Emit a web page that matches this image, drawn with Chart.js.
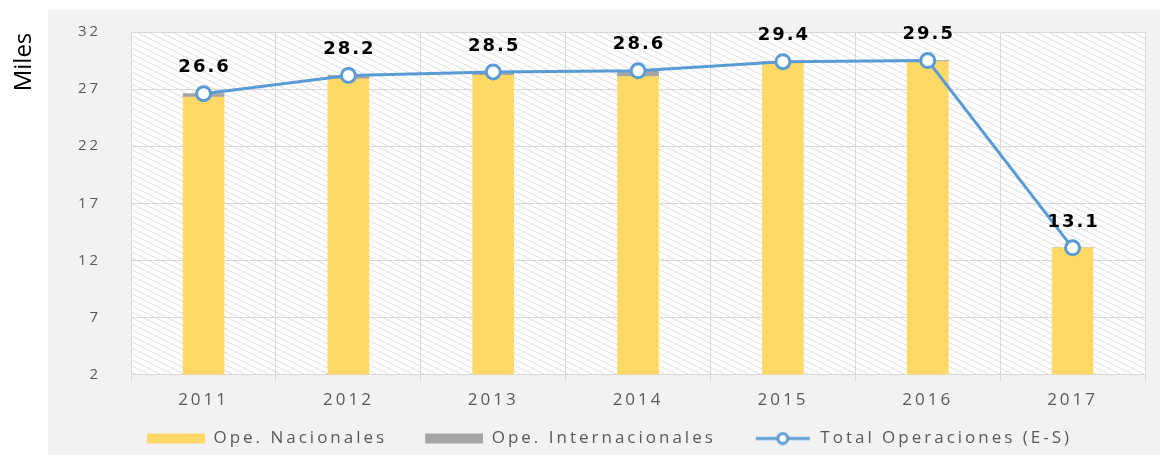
<!DOCTYPE html>
<html>
<head>
<meta charset="utf-8">
<script src="https://cdn.jsdelivr.net/npm/chart.js@4.4.0/dist/chart.umd.min.js"></script>
<style>
  html, body { margin: 0; padding: 0; background: #ffffff; }
  #wrap { width: 1165px; height: 457px; }
</style>
</head>
<body>
<div id="wrap"><canvas id="opsChart" width="1165" height="457"></canvas></div>
<script>
var years = ['2011', '2012', '2013', '2014', '2015', '2016', '2017']
var nacionales = [26.3, 27.9, 28.2, 28.1, 29.3, 29.4, 13.1]
var internacionales = [0.3, 0.3, 0.3, 0.5, 0.1, 0.1, 0.0]
var totales = [26.6, 28.2, 28.5, 28.6, 29.4, 29.5, 13.1]
var yTicks = [2, 7, 12, 17, 22, 27, 32]

var blue = '#5b9bd5'
var spacing = '3px'

// light diagonal hatch for the plot area
function hatch() {
    var c = document.createElement('canvas')
    c.width = 12; c.height = 6
    var g = c.getContext('2d')
    g.fillStyle = '#ffffff'
    g.fillRect(0, 0, 12, 6)
    g.strokeStyle = '#dcdcdc'
    g.lineWidth = 1
    g.beginPath()
    g.moveTo(-12, -6); g.lineTo(24, 12)
    g.moveTo(-12, 0); g.lineTo(12, 12)
    g.moveTo(0, -6); g.lineTo(24, 6)
    g.stroke()
    return c
}

// legend icons, with empty room on the left so items sit further apart
function legendIcon(kind, color) {
    var c = document.createElement('canvas')
    c.width = 84; c.height = 14
    var g = c.getContext('2d')
    if (kind === 'box') {
        g.fillStyle = color
        g.fillRect(26, 2, 58, 10)
    } else {
        g.strokeStyle = color
        g.lineWidth = 3
        g.beginPath(); g.moveTo(28, 7); g.lineTo(82, 7); g.stroke()
        g.beginPath(); g.arc(55, 7, 5, 0, Math.PI * 2)
        g.fillStyle = '#ffffff'; g.fill(); g.stroke()
    }
    return c
}

var icons = [legendIcon('box', '#ffd966'), legendIcon('box', '#a5a5a5'), legendIcon('line', blue)]

var panelPlugin = {
    id: 'panel',
    beforeUpdate: function (chart) {
        chart.ctx.letterSpacing = spacing
    },
    beforeDraw: function (chart) {
        var ctx = chart.ctx
        var a = chart.chartArea
        ctx.letterSpacing = spacing
        ctx.save()
        ctx.fillStyle = '#f2f2f2'
        ctx.fillRect(48, 10, 1112, 445)
        ctx.fillStyle = ctx.createPattern(hatch(), 'repeat')
        ctx.fillRect(a.left, a.top, a.right - a.left, a.bottom - a.top)
        // axis title, sits near the top
        ctx.letterSpacing = '0px'
        ctx.translate(24, 62)
        ctx.rotate(-Math.PI / 2)
        ctx.fillStyle = '#000000'
        ctx.font = '24px "Open Sans", sans-serif'
        ctx.textAlign = 'center'
        ctx.textBaseline = 'middle'
        ctx.fillText('Miles', 0, 0)
        ctx.restore()
    },
    afterDatasetsDraw: function (chart) {
        var ctx = chart.ctx
        var meta = chart.getDatasetMeta(2)
        ctx.save()
        ctx.letterSpacing = '2px'
        ctx.fillStyle = '#000000'
        ctx.font = 'bold 18px "DejaVu Sans", sans-serif'
        ctx.textAlign = 'center'
        ctx.textBaseline = 'middle'
        meta.data.forEach(function (pt, i) {
            ctx.fillText(totales[i].toFixed(1), pt.x + 1, pt.y - 26)
        })
        ctx.restore()
    }
}

var ctx = document.getElementById('opsChart').getContext('2d')
var opsChart = new Chart(ctx, {
    type: 'bar',
    data: {
        labels: years,
        datasets: [{
            label: 'Ope. Nacionales',
            data: nacionales,
            backgroundColor: '#ffd966',
            stack: 'ops',
            order: 2
        }, {
            label: 'Ope. Internacionales',
            data: internacionales,
            backgroundColor: '#a5a5a5',
            stack: 'ops',
            order: 2
        }, {
            type: 'line',
            label: 'Total Operaciones (E-S)',
            data: totales,
            borderColor: blue,
            borderWidth: 3,
            pointRadius: 7,
            pointHoverRadius: 7,
            pointBorderWidth: 3,
            pointBackgroundColor: '#ffffff',
            pointBorderColor: blue,
            tension: 0,
            order: 1
        }]
    },
    options: {
        responsive: false,
        animation: false,
        layout: { padding: { left: 48, right: 20, top: 32, bottom: 0 } },
        datasets: { bar: { barThickness: 41 } },
        scales: {
            x: {
                stacked: true,
                grid: { color: '#d9d9d9', offset: true, tickLength: 7, tickColor: '#d9d9d9' },
                border: { color: '#d9d9d9' },
                ticks: { color: '#595959', font: { size: 17, family: '"Open Sans", sans-serif' }, padding: 8 }
            },
            y: {
                stacked: true,
                min: yTicks[0],
                max: yTicks[yTicks.length - 1],
                afterBuildTicks: function (axis) {
                    axis.ticks = yTicks.map(function (v) { return { value: v } })
                },
                // the wide tick padding should not push the plot down
                afterFit: function (axis) {
                    axis.paddingTop = 0
                    axis.paddingBottom = 0
                },
                grid: { color: '#d9d9d9', drawTicks: false },
                border: { color: '#d9d9d9' },
                ticks: { color: '#595959', font: { size: 15, family: '"Open Sans", sans-serif' }, padding: 30 }
            }
        },
        plugins: {
            tooltip: { enabled: false },
            legend: {
                position: 'bottom',
                labels: {
                    color: '#595959',
                    font: { size: 17, family: '"Open Sans", sans-serif' },
                    usePointStyle: true,
                    pointStyleWidth: 84,
                    boxHeight: 14,
                    padding: 12,
                    generateLabels: function (chart) {
                        return chart.data.datasets.map(function (ds, i) {
                            return { text: ds.label, pointStyle: icons[i], datasetIndex: i, fontColor: '#595959', lineWidth: 0 }
                        })
                    }
                }
            }
        }
    },
    plugins: [panelPlugin]
});
</script>
</body>
</html>
